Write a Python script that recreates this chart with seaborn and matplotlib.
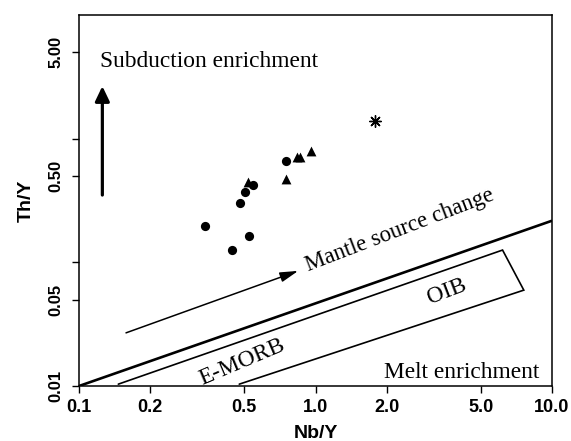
import matplotlib
matplotlib.use("Agg")
import matplotlib.pyplot as plt
from matplotlib.ticker import NullLocator, FixedLocator, FixedFormatter
import seaborn as sns

sns.set_style("ticks")
plt.rcParams['font.family'] = ['Liberation Sans', 'DejaVu Sans']
plt.rcParams['text.color'] = 'black'
plt.rcParams['axes.labelcolor'] = 'black'

# Sample compositions (Nb/Y vs Th/Y)
circle_nb_y = [0.341, 0.442, 0.523, 0.479, 0.503, 0.545, 0.750]
circle_th_y = [0.196, 0.125, 0.164, 0.303, 0.371, 0.421, 0.660]
triangle_nb_y = [0.519, 0.750, 0.832, 0.862, 0.953]
triangle_th_y = [0.448, 0.469, 0.708, 0.708, 0.798]
star_nb_y = [1.78]
star_th_y = [1.40]

# Reference array (MORB-OIB) and E-MORB/OIB field outline
array_x = [0.1, 10.0]
array_y = [0.01, 0.217]
field_x = [0.1466, 6.18, 7.6, 0.476]
field_y = [0.01035, 0.1257, 0.0596, 0.01035]

# Trend arrows
mantle_arrow_x = [0.158, 0.845]
mantle_arrow_y = [0.0269, 0.0853]
subduction_arrow_x = [0.1255, 0.1255]
subduction_arrow_y = [0.35, 2.66]

x_ticks = [0.1, 0.2, 0.5, 1.0, 2.0, 5.0, 10.0]
x_tick_labels = ['0.1', '0.2', '0.5', '1.0', '2.0', '5.0', '10.0']
y_ticks = [0.01, 0.05, 0.1, 0.5, 1.0, 5.0]
y_tick_labels = ['0.01', '0.05', '', '0.50', '', '5.00']

fig = plt.figure(figsize=(5.71, 4.41), dpi=100)
ax = fig.add_axes([0.1384, 0.1247, 0.8283, 0.8413])

sns.scatterplot(x=circle_nb_y, y=circle_th_y, marker='o', color='black',
                s=44, linewidth=0, ax=ax, zorder=5)
sns.scatterplot(x=triangle_nb_y, y=triangle_th_y, marker='^', color='black',
                s=50, linewidth=0, ax=ax, zorder=5)
sns.scatterplot(x=star_nb_y, y=star_th_y, marker=(8, 2, 0), color='black',
                s=70, linewidth=1.0, ax=ax, zorder=5)

ax.set_xscale('log')
ax.set_yscale('log')
ax.set_xlim(0.1, 10)
ax.set_ylim(0.01, 10)

ax.plot(array_x, array_y, color='black', lw=1.9, solid_capstyle='butt')
ax.plot(field_x, field_y, color='black', lw=1.2, solid_joinstyle='miter')

ax.annotate('', xy=(mantle_arrow_x[1], mantle_arrow_y[1]),
            xytext=(mantle_arrow_x[0], mantle_arrow_y[0]),
            arrowprops=dict(arrowstyle='-|>,head_length=1.1,head_width=0.3',
                            color='black', lw=1.1, shrinkA=0, shrinkB=0,
                            mutation_scale=10))
ax.annotate('', xy=(subduction_arrow_x[1], subduction_arrow_y[1]),
            xytext=(subduction_arrow_x[0], subduction_arrow_y[0]),
            arrowprops=dict(arrowstyle='-|>,head_length=0.9,head_width=0.43',
                            color='black', lw=2.3, shrinkA=0, shrinkB=0,
                            mutation_scale=10))

serif = ['Liberation Serif', 'DejaVu Serif']
fs = 16.8
ax.text(0.1227, 3.78, 'Subduction enrichment', family=serif, fontsize=fs,
        ha='left', va='baseline', color='black')
ax.text(8.87, 0.01156, 'Melt enrichment', family=serif, fontsize=fs,
        ha='right', va='baseline', color='black')
ax.text(2.26, 0.181, 'Mantle source change', family=serif, fontsize=16.4,
        ha='center', va='center', rotation=21, rotation_mode='anchor',
        color='black')
ax.text(3.59, 0.0577, 'OIB', family=serif, fontsize=fs,
        ha='center', va='center', rotation=21, rotation_mode='anchor',
        color='black')
ax.text(0.490, 0.0157, 'E-MORB', family=serif, fontsize=fs,
        ha='center', va='center', rotation=23, rotation_mode='anchor',
        color='black')

ax.xaxis.set_major_locator(FixedLocator(x_ticks))
ax.xaxis.set_major_formatter(FixedFormatter(x_tick_labels))
ax.yaxis.set_major_locator(FixedLocator(y_ticks))
ax.yaxis.set_major_formatter(FixedFormatter(y_tick_labels))
ax.xaxis.set_minor_locator(NullLocator())
ax.yaxis.set_minor_locator(NullLocator())

ax.tick_params(axis='both', direction='out', length=5, width=1.0, colors='black')
ax.tick_params(axis='x', labelsize=13, pad=4)
ax.tick_params(axis='y', labelsize=12, pad=6)
for lab in ax.get_xticklabels():
    lab.set_fontweight('bold')
for lab in ax.get_yticklabels():
    lab.set_fontweight('bold')
    lab.set_rotation(90)
    lab.set_va('center')

for sp in ax.spines.values():
    sp.set_linewidth(1.1)
    sp.set_color('black')

ax.set_xlabel('Nb/Y', fontsize=14, fontweight='bold', labelpad=7)
ax.set_ylabel('Th/Y', fontsize=14, fontweight='bold', labelpad=10)

fig.savefig('out.png', dpi=100, facecolor='white')
